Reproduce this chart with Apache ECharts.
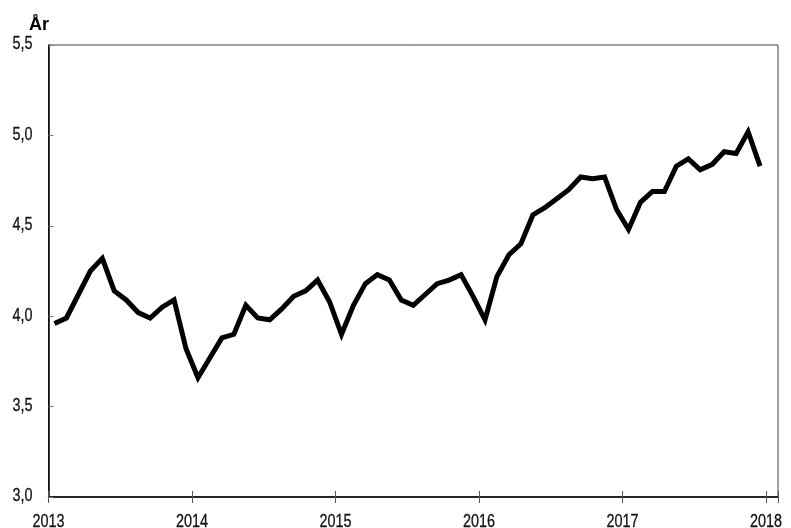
<!DOCTYPE html>
<html><head><meta charset="utf-8">
<script src="https://cdn.jsdelivr.net/npm/echarts@6/dist/echarts.min.js"></script>
<style>html,body{margin:0;padding:0;background:#fff}#c{width:791px;height:528px}</style>
</head><body><div id="c"></div>
<script>
const yearLabels = ['2013','2014','2015','2016','2017','2018'];
const yTickLabels = ['3,0','3,5','4,0','4,5','5,0','5,5'];
const yTickValues = [3.0,3.5,4.0,4.5,5.0,5.5];
const v2013 = [3.96,3.99,4.12,4.25,4.32,4.14,4.09,4.02,3.99,4.05,4.09,3.82];
const v2014 = [3.66,3.77,3.88,3.90,4.06,3.99,3.98,4.04,4.11,4.14,4.20,4.08];
const v2015 = [3.90,4.06,4.18,4.23,4.20,4.09,4.06,4.12,4.18,4.20,4.23,4.11];
const v2016 = [3.98,4.22,4.34,4.40,4.56,4.60,4.65,4.70,4.77,4.76,4.77,4.59];
const v2017 = [4.48,4.63,4.69,4.69,4.83,4.87,4.81,4.84,4.91,4.90,5.02,4.83];

const all = [].concat(v2013,v2014,v2015,v2016,v2017);
const data = all.map((v,i)=>[i+0.5, v]);
const FONT = '"Liberation Sans",Arial,sans-serif';
const SX = 0.8;

const chart = echarts.init(document.getElementById('c'), null, {renderer:'canvas'});
const xCommon = {type:'value', min:0, max:61, interval:12};
chart.setOption({
  animation:false,
  title:{text:'År', left:24, top:11, textStyle:{fontFamily:FONT, fontWeight:'bold', fontSize:18, color:'#000'}},
  grid:{left:48.5, right:13, top:45, bottom:31, show:true, borderColor:'#444', borderWidth:1},
  xAxis:[
    Object.assign({}, xCommon, {
      axisLine:{show:true, lineStyle:{color:'#000', width:1.5}},
      axisTick:{show:true, length:6, lineStyle:{color:'#555'}},
      axisLabel:{show:false},
      splitLine:{show:false}
    }),
    Object.assign({}, xCommon, {
      position:'bottom',
      axisLine:{show:false},
      axisTick:{show:true, inside:true, length:6, lineStyle:{color:'#555'}},
      axisLabel:{show:false},
      splitLine:{show:false}
    })
  ],
  yAxis:{type:'value', min:3, max:5.5, interval:0.5,
    axisLine:{show:true, lineStyle:{color:'#000', width:1.5}},
    axisTick:{show:true, inside:true, length:5, lineStyle:{color:'#777'}},
    axisLabel:{show:false},
    splitLine:{show:false}
  },
  series:[{type:'line', data:data, showSymbol:false, lineStyle:{color:'#000', width:5, join:'miter'}, itemStyle:{color:'#000'}}]
});

// condensed-looking tick labels, positioned through the axes' own scales
const g = [];
yearLabels.forEach((t,i)=>{
  const p = chart.convertToPixel({gridIndex:0}, [i*12, 3]);
  g.push({type:'text', x:p[0], y:p[1]+16, scaleX:SX, silent:true,
    style:{text:t, fontFamily:FONT, fontSize:18, fill:'#111', stroke:'#111', lineWidth:0.3, textAlign:'center', textVerticalAlign:'top'}});
});
yTickValues.forEach((v,i)=>{
  const p = chart.convertToPixel({gridIndex:0}, [0, v]);
  g.push({type:'text', x:p[0]-16, y:p[1]-0.5, scaleX:SX, silent:true,
    style:{text:yTickLabels[i], fontFamily:FONT, fontSize:18, fill:'#111', stroke:'#111', lineWidth:0.3, textAlign:'right', textVerticalAlign:'middle'}});
});
chart.setOption({graphic:g});
</script></body></html>
